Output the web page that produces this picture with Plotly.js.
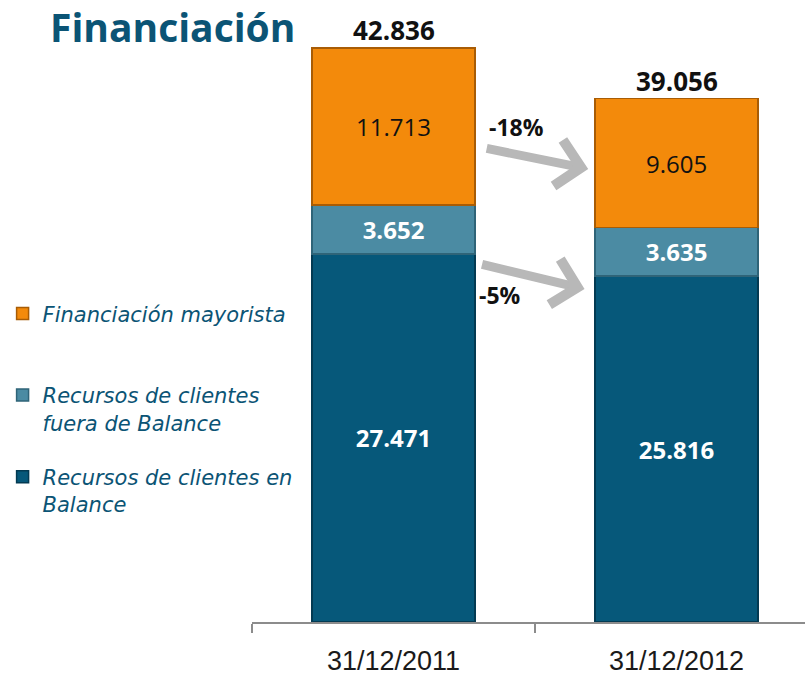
<!DOCTYPE html>
<html>
<head>
<meta charset="utf-8">
<script src="https://cdn.plot.ly/plotly-3.0.1.min.js"></script>
<style>html,body{margin:0;padding:0;background:#fff;}#chart{width:805px;height:675px;}</style>
</head>
<body>
<div id="chart"></div>
<script>
const categories = ["31/12/2011", "31/12/2012"];
const enBalance = [27471, 25816];
const fueraBalance = [3652, 3635];
const mayorista = [11713, 9605];
const seriesNames = ["Recursos de clientes en<br>Balance", "Recursos de clientes<br>fuera de Balance", "Financiación mayorista<br> "];
const changeLabels = ["-18%", "-5%"];

const totals = categories.map((c, i) => enBalance[i] + fueraBalance[i] + mayorista[i]);
const fmt = v => v.toString().replace(/\B(?=(\d{3})+(?!\d))/g, ".");

const barW = 0.576;
const traces = [
  {name: seriesNames[0], y: enBalance, color: "#06587a", line: "#033a52", txt: "#ffffff", w: 700, g: "a", r: 3},
  {name: seriesNames[1], y: fueraBalance, color: "#4b8ba3", line: "#2f6478", txt: "#ffffff", w: 700, g: "b", r: 2},
  {name: seriesNames[2], y: mayorista, color: "#f38a0b", line: "#a85c05", txt: "#111111", w: 400, g: "c", r: 1}
].map(t => ({
  type: "bar", x: categories, y: t.y, name: t.name, width: barW,
  legendgroup: t.g, legendrank: t.r,
  marker: {color: t.color, line: {color: t.line, width: 1.5}},
  text: t.y.map(fmt), textposition: "inside", insidetextanchor: "middle",
  textangle: 0, constraintext: "none",
  textfont: {family: "Open Sans, sans-serif", size: 24, color: t.txt, weight: t.w},
  hoverinfo: "skip"
}));

const annotations = [];
categories.forEach((c, i) => {
  annotations.push({x: c, y: totals[i], xref: "x", yref: "y", text: fmt(totals[i]),
    showarrow: false, yanchor: "bottom", yshift: -2,
    font: {family: "Open Sans, sans-serif", size: 26, color: "#111", weight: 700}});
});
// arrows
annotations.push({x: 0.688, y: 33800, xref: "x", yref: "y", ax: -103, ay: -21,
  showarrow: true, arrowhead: 4, arrowsize: 1, arrowwidth: 9, arrowcolor: "#b8b8b8", text: ""});
annotations.push({x: 0.675, y: 24850, xref: "x", yref: "y", ax: -104, ay: -25,
  showarrow: true, arrowhead: 4, arrowsize: 1, arrowwidth: 9, arrowcolor: "#b8b8b8", text: ""});
annotations.push({x: 0.435, y: 36950, xref: "x", yref: "y", text: changeLabels[0], showarrow: false,
  font: {family: "Open Sans, sans-serif", size: 23, color: "#111", weight: 700}});
annotations.push({x: 0.375, y: 24400, xref: "x", yref: "y", text: changeLabels[1], showarrow: false,
  font: {family: "Open Sans, sans-serif", size: 23, color: "#111", weight: 700}});

const layout = {
  width: 805, height: 675,
  margin: {l: 252, r: 0, t: 19, b: 53},
  paper_bgcolor: "#fff", plot_bgcolor: "#fff",
  barmode: "stack",
  separators: ",.",
  showlegend: true,
  title: {text: "Financiación", x: 50/805, xref: "container", xanchor: "left",
    y: 1 - 28/675, yref: "container", yanchor: "middle",
    font: {family: "Open Sans, sans-serif", size: 39, color: "#0b5475", weight: 700}},
  legend: {x: -0.451, xanchor: "left", y: 0.545, yanchor: "top", valign: "top",
    traceorder: "grouped", tracegroupgap: 24, itemwidth: 30,
    bgcolor: "rgba(0,0,0,0)",
    font: {family: "DejaVu Sans, sans-serif", size: 21, color: "#0b5475", style: "italic"}},
  xaxis: {type: "category", range: [-0.5, 1.454], showline: true, linecolor: "#8c8c8c", linewidth: 1.5,
    ticks: "outside", tickson: "boundaries", ticklen: 9, tickcolor: "#8c8c8c", tickwidth: 1.5,
    ticklabelstandoff: 14, showgrid: false, zeroline: false, fixedrange: true,
    tickfont: {family: "Liberation Sans, Arial, sans-serif", size: 27, color: "#1a1a1a"}},
  yaxis: {range: [0, 45000], visible: false, showgrid: false, zeroline: false, fixedrange: true},
  annotations: annotations
};

Plotly.newPlot("chart", traces, layout, {staticPlot: true, displayModeBar: false});
</script>
</body>
</html>
